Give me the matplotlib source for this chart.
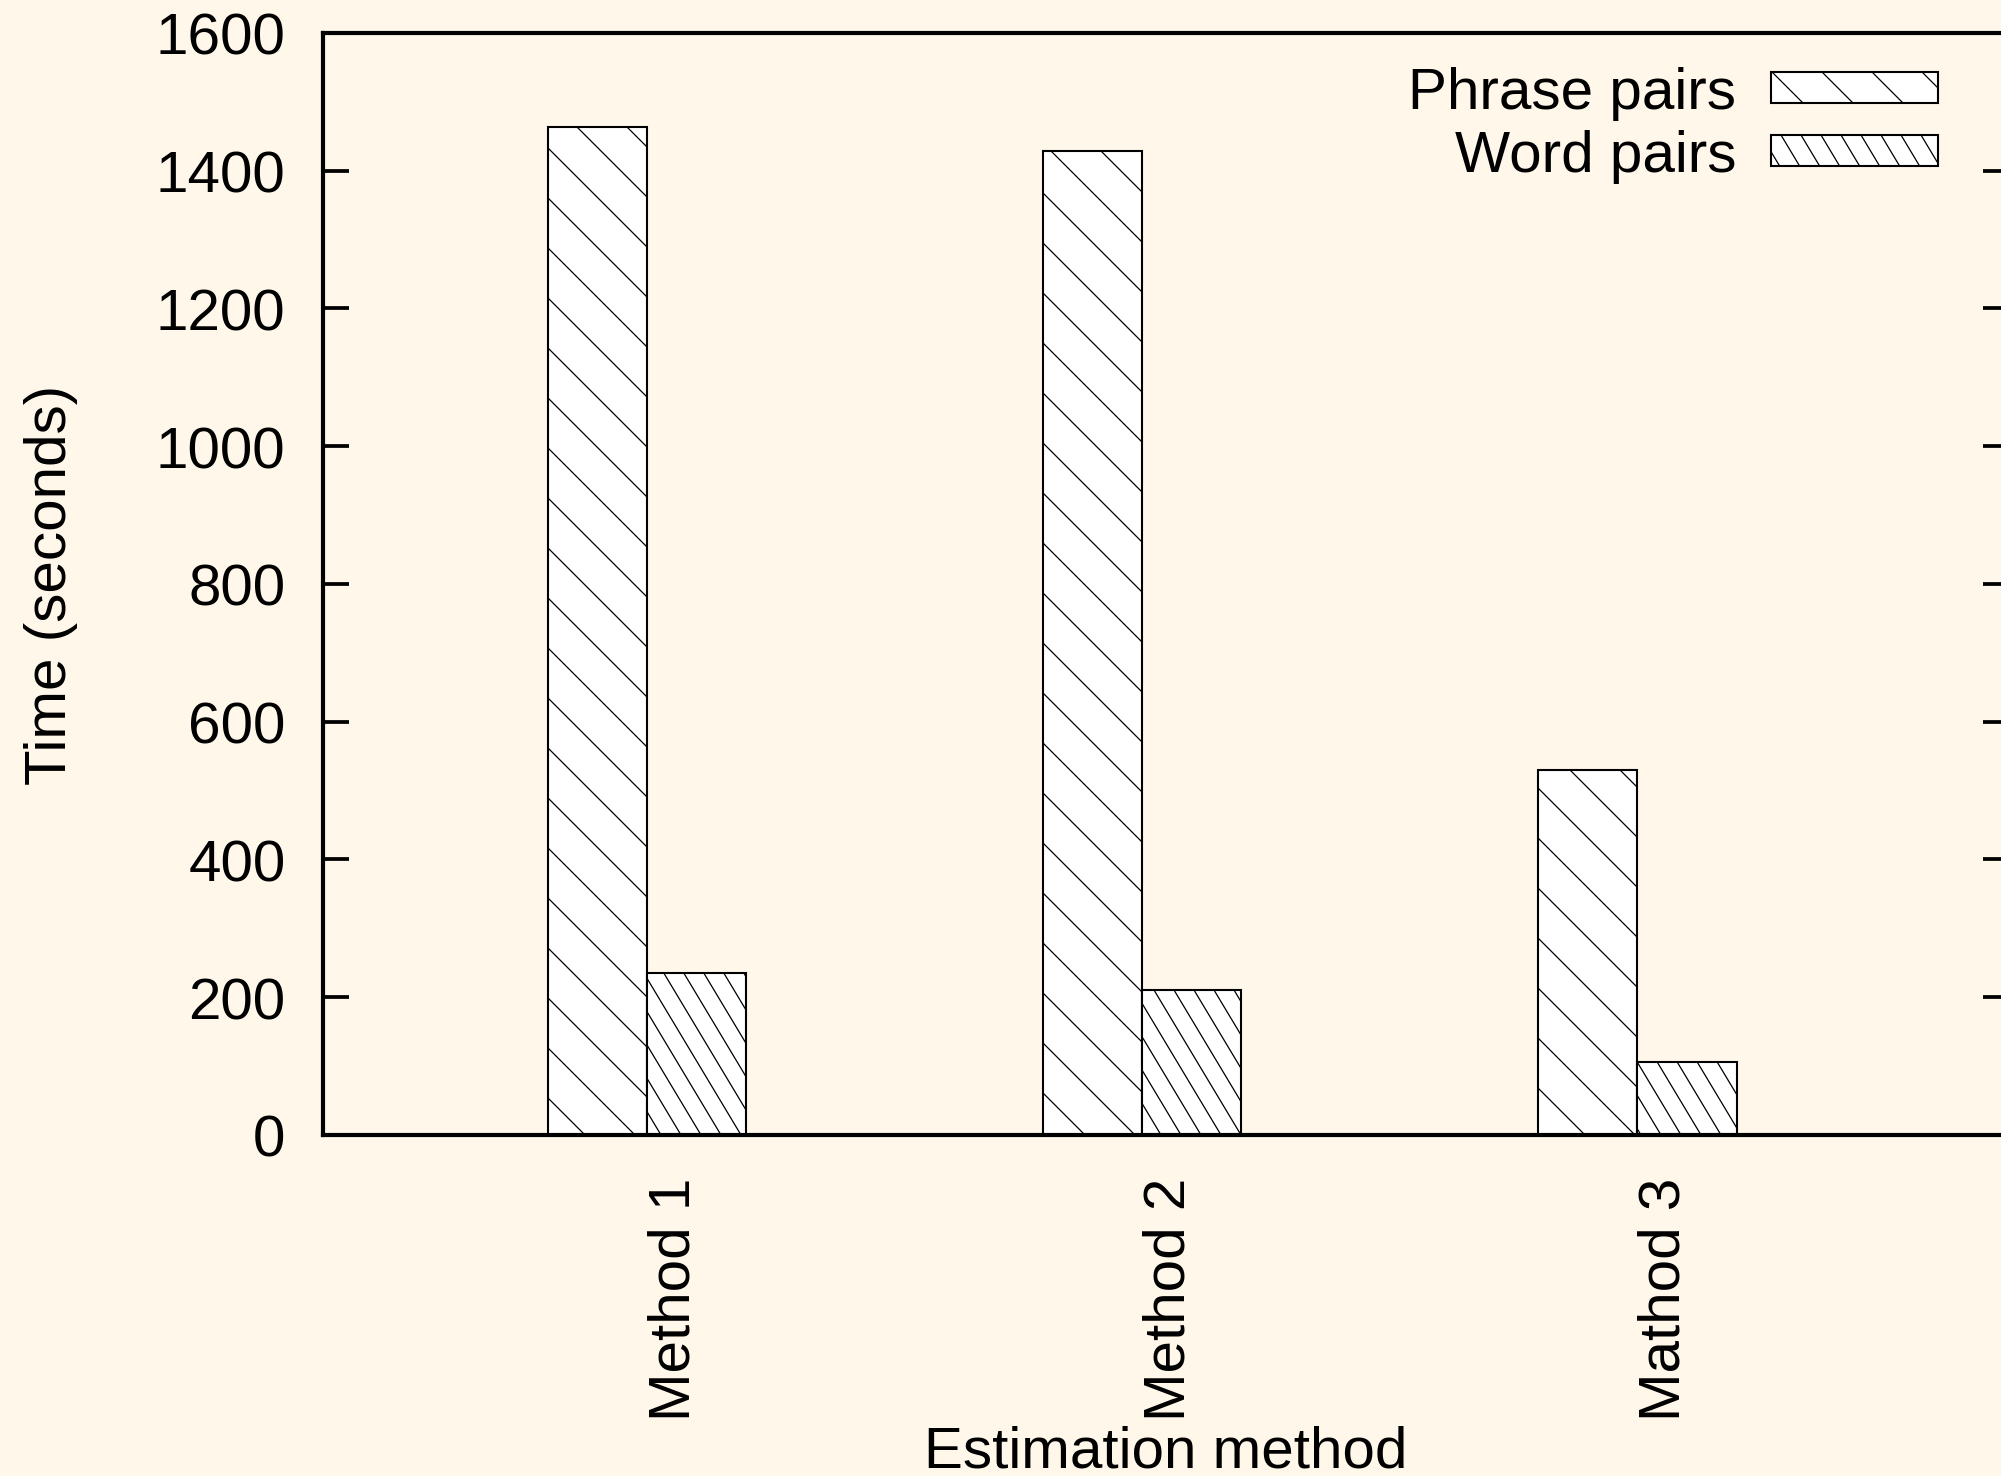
import numpy as np
import matplotlib
matplotlib.use("Agg")
import matplotlib.pyplot as plt
import matplotlib.hatch as mhatch
from matplotlib.path import Path

# ======================================================
# Data
# ======================================================

methods = ["Method 1", "Method 2", "Mathod 3"]
phrase_pairs = [1463, 1428, 530]
word_pairs = [235, 211, 106]

# ======================================================
# Steep hatch (gnuplot style ~60 deg) mapped onto '|'
# ======================================================

class SteepHatch(mhatch.HatchPatternBase):
    def __init__(self, hatch, density):
        self.num_lines = 25 if "|" in hatch else 0
        self.num_vertices = self.num_lines * 2

    def set_vertices_and_codes(self, vertices, codes):
        x0 = np.arange(-9, 16) / 15
        vertices[0::2, 0] = x0
        vertices[0::2, 1] = 1.0
        vertices[1::2, 0] = x0 + 0.6
        vertices[1::2, 1] = 0.0
        codes[0::2] = Path.MOVETO
        codes[1::2] = Path.LINETO


mhatch._hatch_types = [
    SteepHatch if h is mhatch.VerticalHatch else h
    for h in mhatch._hatch_types
]

# ======================================================
# Style
# ======================================================

bg = "#fef7ea"
plt.rcParams["font.family"] = ["Liberation Sans", "DejaVu Sans"]
plt.rcParams["font.size"] = 14
plt.rcParams["hatch.linewidth"] = 0.3
plt.rcParams["hatch.color"] = "black"

fig = plt.figure(figsize=(2001 / 300, 1477 / 300), dpi=300, facecolor=bg)
ax = fig.add_axes([0.1614, 0.2309, 0.8428, 0.7462])
ax.set_facecolor(bg)

# ======================================================
# Bars
# ======================================================

x = np.arange(len(methods))
w = 0.2

ax.bar(x - w / 2, phrase_pairs, w, color="white", edgecolor="black",
       linewidth=0.5, hatch="\\\\", label="Phrase pairs")
ax.bar(x + w / 2, word_pairs, w, color="white", edgecolor="black",
       linewidth=0.5, hatch="|", label="Word pairs")

ax.set_xlim(-0.6544, 2.751)
ax.set_ylim(0, 1600)
ax.set_yticks(np.arange(0, 1601, 200))
ax.set_xticks(x)
ax.set_xticklabels(methods, rotation=90, ha="left", va="top")

for s in ax.spines.values():
    s.set_linewidth(1.0)

ax.tick_params(axis="y", direction="in", length=6.2, width=0.9,
               right=True, pad=9)
ax.tick_params(axis="x", length=0, pad=10)

ax.set_ylabel("Time (seconds)", labelpad=18.7)
ax.set_xlabel("Estimation method", labelpad=1)

ax.legend(loc="upper right", bbox_to_anchor=(0.9685, 0.9543),
          bbox_transform=fig.transFigure, frameon=False, markerfirst=False,
          borderpad=0, borderaxespad=0, handlelength=2.86,
          handleheight=0.45, handletextpad=0.6, labelspacing=0.15)

plt.savefig("out.png", dpi=300, facecolor=bg)
